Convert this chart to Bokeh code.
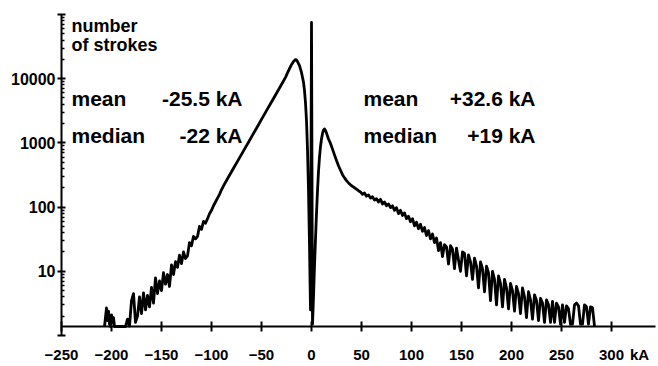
from bokeh.plotting import figure
from bokeh.models import Range1d, FixedTicker, Label, BasicTickFormatter
from bokeh.embed import file_html
from bokeh.resources import INLINE

# ---- data (current in kA, number of strokes) ----
neg_ka = [-207, -205, -204, -203, -202, -201, -200, -199, -198, -197, -186,
          -184, -182, -180, -178, -176, -174, -172, -170, -168, -166, -164, -162,
          -160, -158, -156, -154, -152, -150, -148, -146, -144, -142, -140, -138,
          -136, -134, -132, -130, -128, -126, -124, -122, -120, -118, -116, -114,
          -112, -110, -108, -106, -104, -102, -100, -98, -96, -94, -92, -90, -88,
          -86, -83, -80, -77, -74, -71, -68, -65, -62, -59, -56, -53, -50, -47,
          -44, -41, -38, -35, -32, -29, -26, -24, -22, -20, -18, -16, -15, -14,
          -12, -10, -8, -7, -6, -5, -4, -3, -2, -1]
neg_n = [1.38, 2.7, 1.7, 2.4, 1.5, 1.38, 2.1, 1.6, 1.9, 1.38, 1.38,
         1.8, 1.4, 3.5, 4.5, 1.6, 2.0, 4.0, 2.2, 4.6, 2.5, 4.2, 2.8,
         5.6, 3.2, 7.9, 4.5, 7.1, 5.0, 9.5, 6.3, 8.9, 5.8, 12.6, 8.9,
         14.1, 11.5, 17.8, 13.2, 20, 15.8, 17.4, 28, 25, 35, 32, 35,
         50, 45, 60, 56, 66, 79, 89, 105, 120, 138, 158, 186, 214,
         244, 294, 355, 428, 516, 622, 751, 907, 1090, 1320, 1590, 1920, 2320, 2800,
         3380, 4070, 4920, 5930, 7160, 8650, 10500, 12300, 14300, 16500, 18500, 19800, 19600, 18500,
         16000, 12500, 8800, 6500, 4200, 2200, 800, 180, 25, 2.5]

zero_ka = [0]
zero_n = [75000]

pos_ka = [1, 2, 3, 4, 5, 6, 7, 8, 9, 10, 11, 12, 13, 14, 15, 16, 17, 18, 19,
          21, 23, 25, 27, 29, 31, 33, 35, 37, 39, 41, 43, 45, 47, 49,
          51, 53, 55, 57, 59, 61, 63, 65, 67, 69, 71, 73, 75, 77, 79, 81, 83, 85,
          87, 89, 91, 93, 95, 97, 99, 101, 103, 105, 107, 109, 111, 113, 115, 117,
          119, 121, 123, 125, 127, 129, 131, 133, 135, 137, 139, 141, 143, 145,
          147, 149, 151, 153, 155, 157, 159, 161, 163, 165, 167, 169, 171, 173,
          175, 177, 179, 181, 183, 185, 187, 189, 191, 193, 195, 197, 199, 201,
          203, 205, 207, 209, 211, 213, 215, 217, 219, 221, 223, 225, 227, 229,
          231, 233, 235, 237, 239, 241, 243, 245, 247, 249, 251, 253, 255, 257,
          259, 261, 263, 265, 267, 269, 271, 273, 275, 277, 279, 281, 283]
pos_n = [1.5, 4, 12, 32, 80, 180, 360, 600, 880, 1150, 1400, 1580, 1650, 1560, 1420, 1280, 1150, 1060, 980,
         800, 650, 530, 440, 375, 320, 285, 258, 238, 222, 210, 200, 190, 180, 172,
         158, 166, 148, 155, 138, 145, 129, 135, 120, 132, 112, 120, 105, 112, 98, 105, 89, 98,
         79, 89, 74, 81, 66, 72, 59, 66, 51, 58, 46, 54, 42, 48, 36, 43,
         32, 38, 28, 33, 21, 28, 17, 26, 24, 13, 25, 22, 11, 23,
         15, 10, 20, 19, 8.5, 18, 14, 7.5, 16, 12, 5.5, 14, 11, 4.8,
         12, 9.5, 3.5, 10, 7.5, 3.0, 8.5, 6.5, 2.8, 7.5, 5.5, 2.6, 6.5, 5.0,
         2.4, 5.8, 4.5, 2.2, 5.5, 4.0, 1.9, 4.8, 3.6, 1.8, 4.3, 3.5, 1.7, 3.8,
         3.2, 1.6, 3.6, 3.0, 1.6, 3.4, 1.6, 3.2, 2.8, 1.5, 3.0, 1.6, 2.9, 2.6,
         1.5, 1.5, 3.0, 3.2, 2.9, 1.5, 1.5, 3.0, 2.8, 1.5, 2.8, 2.7, 1.4]

x_ticks = [-250, -200, -150, -100, -50, 0, 50, 100, 150, 200, 250, 300]
y_ticks = [1, 10, 100, 1000, 10000, 100000]
y_tick_labels = {1: "", 10: "10", 100: "100", 1000: "1000", 10000: "10000", 100000: ""}

FONT = "Liberation Sans"

p = figure(frame_width=658, frame_height=366, y_axis_type="log",
           x_range=Range1d(-311, 347), y_range=Range1d(0.329, 165000),
           output_backend="svg", toolbar_location=None,
           min_border_left=0, min_border_right=0, min_border_top=0, min_border_bottom=0)
p.outline_line_color = None
p.xgrid.visible = False
p.ygrid.visible = False

xs = neg_ka + zero_ka + pos_ka
ys = neg_n + zero_n + pos_n
p.line(xs, ys, line_color="black", line_width=2.8, line_join="round")

# x axis, drawn where the count axis is at its floor
xa = p.xaxis[0]
xa.fixed_location = 1.38
xa.bounds = (-250, 344)
xa.ticker = FixedTicker(ticks=x_ticks)
xa.axis_line_width = 2
xa.major_tick_line_width = 2
xa.major_tick_in = 5
xa.major_tick_out = 5
xa.minor_tick_line_color = None
xa.major_label_standoff = 18
xa.major_label_text_font = FONT
xa.major_label_text_font_style = "bold"
xa.major_label_text_font_size = "15px"
xa.major_label_text_color = "black"

# y axis, drawn at -250 kA
minor = [m * 10 ** d for d in range(0, 5) for m in range(2, 10)]
ya = p.yaxis[0]
ya.fixed_location = -250
ya.bounds = (1, 100000)
ya.ticker = FixedTicker(ticks=y_ticks, minor_ticks=minor)
ya.formatter = BasicTickFormatter(use_scientific=False)
ya.major_label_overrides = y_tick_labels
ya.axis_line_width = 2
ya.major_tick_line_width = 2
ya.major_tick_in = 4
ya.major_tick_out = 4
ya.minor_tick_in = 3
ya.minor_tick_out = 0
ya.minor_tick_line_width = 1.5
ya.major_label_standoff = 2
ya.major_label_text_font = FONT
ya.major_label_text_font_style = "bold"
ya.major_label_text_font_size = "16px"
ya.major_label_text_color = "black"


def lab(x, y, t, size, align="left", baseline="alphabetic"):
    p.add_layout(Label(x=x, y=y, text=t, text_font=FONT, text_font_style="bold",
                       text_font_size=size, text_align=align, text_baseline=baseline,
                       text_color="black"))


lab(-240, 66200, "number", "18px")
lab(-240, 32900, "of strokes", "18px")
lab(-240, 4910, "mean", "21px")
lab(-69, 4910, "-25.5 kA", "21px", align="right")
lab(-240, 1300, "median", "21px")
lab(-69, 1300, "-22 kA", "21px", align="right")
lab(52, 4910, "mean", "21px")
lab(224, 4910, "+32.6 kA", "21px", align="right")
lab(52, 1300, "median", "21px")
lab(224, 1300, "+19 kA", "21px", align="right")
lab(328, 0.51, "kA", "15px", align="center", baseline="middle")

open("out.html", "w").write(file_html(p, INLINE))
